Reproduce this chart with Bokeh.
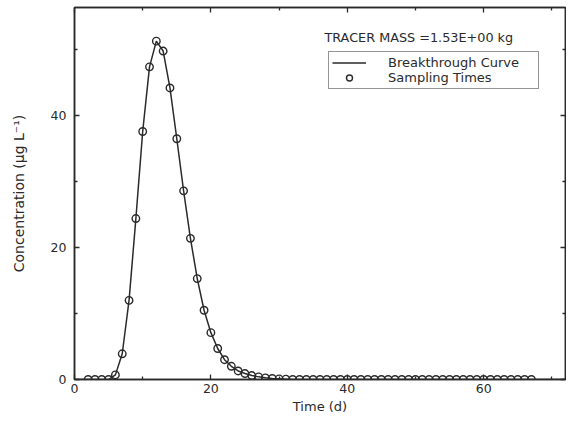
from bokeh.plotting import figure
from bokeh.models import LinearAxis, FixedTicker, Legend, LegendItem, Label, Range1d
from bokeh.embed import file_html
from bokeh.resources import INLINE

# Sampling times (days) and concentrations (ug/L)
sample_days = [2, 3, 4, 5, 6, 7, 8, 9, 10, 11, 12, 13, 14, 15, 16, 17, 18, 19, 20, 21,
               22, 23, 24, 25, 26, 27, 28, 29, 30, 31, 32, 33, 34, 35, 36, 37, 38, 39, 40,
               41, 42, 43, 44, 45, 46, 47, 48, 49, 50, 51, 52, 53, 54, 55, 56, 57, 58, 59,
               60, 61, 62, 63, 64, 65, 66, 67]
sample_conc = [0.0, 0.0, 0.0, 0.0, 0.7, 3.9, 12.0, 24.4, 37.6, 47.4, 51.3, 49.8, 44.2, 36.5,
               28.6, 21.4, 15.3, 10.5, 7.1, 4.7, 3.0, 2.0, 1.3, 0.9, 0.6, 0.4, 0.25, 0.15,
               0.1, 0.05, 0, 0, 0, 0, 0, 0, 0, 0, 0, 0, 0, 0, 0, 0, 0, 0, 0, 0, 0, 0, 0, 0,
               0, 0, 0, 0, 0, 0, 0, 0, 0, 0, 0, 0, 0, 0]

# Breakthrough curve (model), same days plus the flat ends
curve_days = [0, 1] + sample_days + [68, 69, 70, 71, 72]
curve_conc = [0.0, 0.0] + sample_conc + [0.0, 0.0, 0.0, 0.0, 0.0]

x_major = [0, 20, 40, 60]
x_minor = [10, 30, 50, 70]
y_major = [0, 20, 40]
y_minor = [10, 30, 50]

FONT = "DejaVu Sans"
INK = "#2a2a2a"

p = figure(width=566, height=416, x_range=Range1d(0, 72), y_range=Range1d(0, 56.4),
           output_backend="svg", toolbar_location=None,
           min_border_left=74, min_border_right=1, min_border_top=7, min_border_bottom=37,
           x_axis_label="Time (d)", y_axis_label="Concentration (\u03bcg L\u207b\u00b9)")
p.xgrid.visible = False
p.ygrid.visible = False
p.outline_line_color = INK
p.outline_line_width = 1.5
p.background_fill_color = "white"
p.border_fill_color = "white"


def style_axis(ax, ticks, minor, show_labels):
    ax.ticker = FixedTicker(ticks=ticks, minor_ticks=minor)
    ax.axis_line_color = INK
    ax.axis_line_width = 1.5
    ax.major_tick_line_color = INK
    ax.major_tick_line_width = 1.3
    ax.minor_tick_line_color = INK
    ax.minor_tick_line_width = 1.3
    ax.major_tick_in = 5
    ax.major_tick_out = 0
    ax.minor_tick_in = 3
    ax.minor_tick_out = 0
    ax.major_label_text_font = FONT
    ax.major_label_text_color = INK
    ax.axis_label_text_font = FONT
    ax.axis_label_text_font_style = "normal"
    ax.axis_label_text_color = INK
    if show_labels:
        ax.major_label_text_font_size = "12.5px"
    else:
        ax.major_label_overrides = {t: "" for t in ticks}
        ax.major_label_text_font_size = "1px"
        ax.major_label_standoff = 0


style_axis(p.xaxis[0], x_major, x_minor, True)
style_axis(p.yaxis[0], y_major, y_minor, True)
p.xaxis[0].major_label_standoff = 4
p.xaxis[0].axis_label_standoff = 3
p.xaxis[0].axis_label_text_font_size = "13px"
p.yaxis[0].major_label_standoff = 8
p.yaxis[0].axis_label_standoff = 21
p.yaxis[0].axis_label_text_font_size = "14px"

top = LinearAxis()
style_axis(top, x_major, x_minor, False)
p.add_layout(top, "above")
right = LinearAxis()
style_axis(right, y_major, y_minor, False)
p.add_layout(right, "right")

line_r = p.line(curve_days, curve_conc, line_color=INK, line_width=1.5)
circ_r = p.scatter(sample_days, sample_conc, marker="circle", size=7.5, fill_color=None,
                   line_color=INK, line_width=1.4)

mass = Label(x=36.65, y=51.9, text="TRACER MASS =1.53E+00 kg", text_font=FONT,
             text_font_size="12.8px", text_color=INK, text_baseline="middle", text_align="left")
p.add_layout(mass)

legend = Legend(items=[LegendItem(label="Breakthrough Curve", renderers=[line_r]),
                       LegendItem(label="Sampling Times", renderers=[circ_r])],
                location=(254, 290), padding=3, spacing=0, margin=0,
                glyph_width=34, glyph_height=15, label_height=15, label_width=147,
                label_standoff=22, label_text_font=FONT, label_text_font_size="13px",
                label_text_color=INK, border_line_color=INK, border_line_width=1.5,
                background_fill_color="white", background_fill_alpha=1.0)
p.add_layout(legend)

open("out.html", "w").write(file_html(p, INLINE))
